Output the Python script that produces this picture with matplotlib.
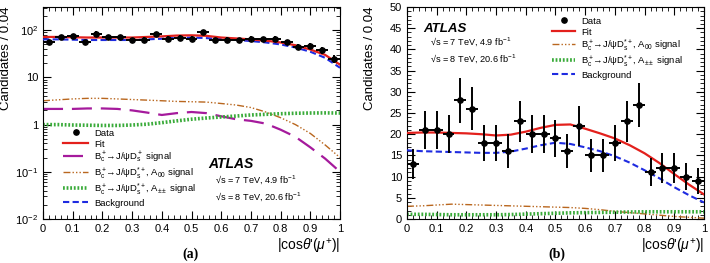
import numpy as np
import matplotlib
matplotlib.use("Agg")
import matplotlib.pyplot as plt
from matplotlib.ticker import MultipleLocator, FixedLocator, FixedFormatter, LogLocator, NullFormatter

plt.rcParams['font.family'] = ['Liberation Sans', 'DejaVu Sans']
plt.rcParams['mathtext.fontset'] = 'custom'
plt.rcParams['mathtext.rm'] = 'Liberation Sans'
plt.rcParams['mathtext.it'] = 'Liberation Sans:italic'
plt.rcParams['mathtext.bf'] = 'Liberation Sans:bold'

# === bin centres and data ===
x_bins = np.arange(0.02, 1.0, 0.04)
data_a = [56, 72, 74, 56, 85, 72, 72, 61, 63, 82, 66, 69, 66, 92, 61, 63, 61, 66, 64, 66, 55, 44, 46, 38, 25]
data_b = [13, 21, 21, 20, 28, 26, 18, 18, 16, 23, 20, 20, 19, 16, 22, 15, 15, 18, 23, 27, 11, 12, 12, 10, 9]

# === fit components, read at steps of 0.05 ===
x_curve = np.linspace(0, 1, 21)
fit_a = [72, 72, 71, 70, 70, 70, 70, 72, 74, 77, 78, 76, 70, 67, 64, 60, 55, 48, 39, 30, 18.6]
bkg_a = [64, 64, 63, 62, 62, 62, 62, 64, 66, 69, 70, 68, 65, 62, 59, 55, 50, 43, 35, 26, 16]
sig_a = [2.15, 2.15, 2.15, 2.2, 2.2, 2.15, 2.0, 1.8, 1.6, 1.75, 1.85, 1.75, 1.5, 1.3, 1.2, 1.05, 0.78, 0.55, 0.33, 0.19, 0.1]
a00_a = [3.2, 3.35, 3.5, 3.6, 3.6, 3.5, 3.4, 3.3, 3.2, 3.1, 3.05, 3.0, 2.8, 2.6, 2.3, 1.85, 1.4, 1.0, 0.65, 0.37, 0.2]
app_a = [1.0, 1.0, 0.98, 0.97, 0.96, 0.96, 0.98, 1.02, 1.1, 1.2, 1.3, 1.38, 1.45, 1.52, 1.6, 1.65, 1.7, 1.74, 1.76, 1.77, 1.76]

fit_b = [20.3, 20.4, 20.4, 20.3, 20.2, 20.0, 19.7, 19.9, 20.6, 21.5, 22.2, 22.3, 21.3, 20.2, 19.0, 17.4, 15.5, 13.2, 10.6, 8.1, 5.8]
bkg_b = [16.2, 16.0, 15.9, 15.8, 15.7, 15.6, 15.6, 15.9, 16.6, 17.4, 18.0, 17.7, 16.9, 16.0, 14.8, 13.3, 11.5, 9.6, 7.5, 5.6, 3.9]
a00_b = [3.0, 3.1, 3.3, 3.5, 3.4, 3.3, 3.2, 3.1, 3.0, 2.9, 2.8, 2.7, 2.5, 2.2, 1.8, 1.5, 1.2, 0.9, 0.6, 0.4, 0.2]
app_b = [1.1, 1.1, 1.05, 1.0, 1.0, 1.0, 1.0, 1.05, 1.15, 1.25, 1.35, 1.45, 1.5, 1.55, 1.6, 1.65, 1.7, 1.7, 1.7, 1.7, 1.7]

lab_data = 'Data'
lab_fit = 'Fit'
lab_sig = r'$\mathrm{B_c^+\!\!\rightarrow\! J/\psi D_s^+}$ signal'
lab_a00 = r'$\mathrm{B_c^+\!\!\rightarrow\! J/\psi D_s^{*+}}$, A$_{00}$ signal'
lab_app = r'$\mathrm{B_c^+\!\!\rightarrow\! J/\psi D_s^{*+}}$, A$_{\pm\pm}$ signal'
lab_bkg = 'Background'
lumi = '√s = 7 TeV, 4.9 fb$^{-1}$\n√s = 8 TeV, 20.6 fb$^{-1}$'

c_fit = '#e3201c'
c_sig = '#a51a9c'
c_a00 = '#b9671f'
c_app = '#3aab3a'
c_bkg = '#1e2be0'

fig = plt.figure(figsize=(7.1, 2.63), dpi=100)
axa = fig.add_axes([0.0606, 0.1673, 0.4183, 0.806])
axb = fig.add_axes([0.5732, 0.1673, 0.4183, 0.806])


def draw(ax, data, fit, bkg, a00, app, sig=None):
    data = np.array(data, float)
    ax.errorbar(x_bins, data, xerr=0.02, yerr=np.sqrt(data), fmt='none', ecolor='black',
                elinewidth=1.4, capsize=0, zorder=5)
    ax.plot(x_bins, data, 'o', color='black', ms=3.8, label=lab_data, zorder=6)
    ax.plot(x_curve, fit, color=c_fit, lw=1.6, label=lab_fit, zorder=4)
    if sig is not None:
        ax.plot(x_curve, sig, color=c_sig, lw=1.6, dashes=(9, 4), label=lab_sig)
    ax.plot(x_curve, a00, color=c_a00, lw=1.0, dashes=(5, 1.5, 1, 1.5, 1, 1.5, 1, 1.5), label=lab_a00)
    ax.plot(x_curve, app, color=c_app, lw=2.6, ls=(0, (0.5, 0.5)), label=lab_app)
    ax.plot(x_curve, bkg, color=c_bkg, lw=1.5, dashes=(3, 1.6), label=lab_bkg, zorder=3)
    ax.set_xlim(0, 1)
    ax.xaxis.set_major_locator(MultipleLocator(0.1))
    ax.xaxis.set_minor_locator(MultipleLocator(0.02))
    ax.xaxis.set_major_formatter(plt.FuncFormatter(lambda v, p: '%g' % round(v, 1)))
    ax.tick_params(which='both', direction='in', top=True, right=True, labelsize=8)
    ax.tick_params(which='major', length=6, width=0.8)
    ax.tick_params(which='minor', length=3, width=0.6)
    ax.set_xlabel(r"|cos$\theta$'($\mu^{+}$)|", fontsize=10, ha='right', x=1.0, labelpad=2)
    ax.set_ylabel('Candidates / 0.04', fontsize=9.5)
    ax.yaxis.set_label_coords(-0.104, 0.76)


def legend(ax, **kw):
    ax.legend(frameon=False, fontsize=6.8, labelspacing=0.05, handleheight=1.25,
              borderaxespad=0, handletextpad=0.6, **kw)


draw(axa, data_a, fit_a, bkg_a, a00_a, app_a, sig_a)
axa.set_yscale('log')
axa.set_ylim(1e-2, 310)
axa.yaxis.set_major_locator(FixedLocator([1e-2, 1e-1, 1, 10, 100]))
axa.yaxis.set_major_formatter(FixedFormatter([r'$10^{-2}$', r'$10^{-1}$', '1', '10', r'$10^{2}$']))
axa.yaxis.set_minor_locator(LogLocator(base=10, subs=np.arange(2, 10), numticks=20))
axa.yaxis.set_minor_formatter(NullFormatter())
legend(axa, loc='lower left', bbox_to_anchor=(0.054, 0.035), handlelength=2.7)
axa.text(0.556, 0.259, 'ATLAS', transform=axa.transAxes, fontsize=10, fontweight='bold',
         style='italic', va='center')
axa.text(0.579, 0.144, lumi, transform=axa.transAxes, fontsize=6.6, va='center', linespacing=1.45)

draw(axb, data_b, fit_b, bkg_b, a00_b, app_b)
axb.set_ylim(0, 50)
axb.yaxis.set_major_locator(MultipleLocator(5))
axb.yaxis.set_minor_locator(MultipleLocator(1))
legend(axb, loc='upper left', bbox_to_anchor=(0.475, 0.975), handlelength=2.5)
axb.text(0.054, 0.896, 'ATLAS', transform=axb.transAxes, fontsize=9.5, fontweight='bold',
         style='italic', va='center')
axb.text(0.077, 0.795, lumi, transform=axb.transAxes, fontsize=6.6, va='center', linespacing=1.45)

fig.text(0.268, 0.02, '(a)', fontsize=10, fontweight='bold', family='Liberation Serif', ha='center')
fig.text(0.785, 0.02, '(b)', fontsize=10, fontweight='bold', family='Liberation Serif', ha='center')

fig.savefig('out.png', dpi=100)
